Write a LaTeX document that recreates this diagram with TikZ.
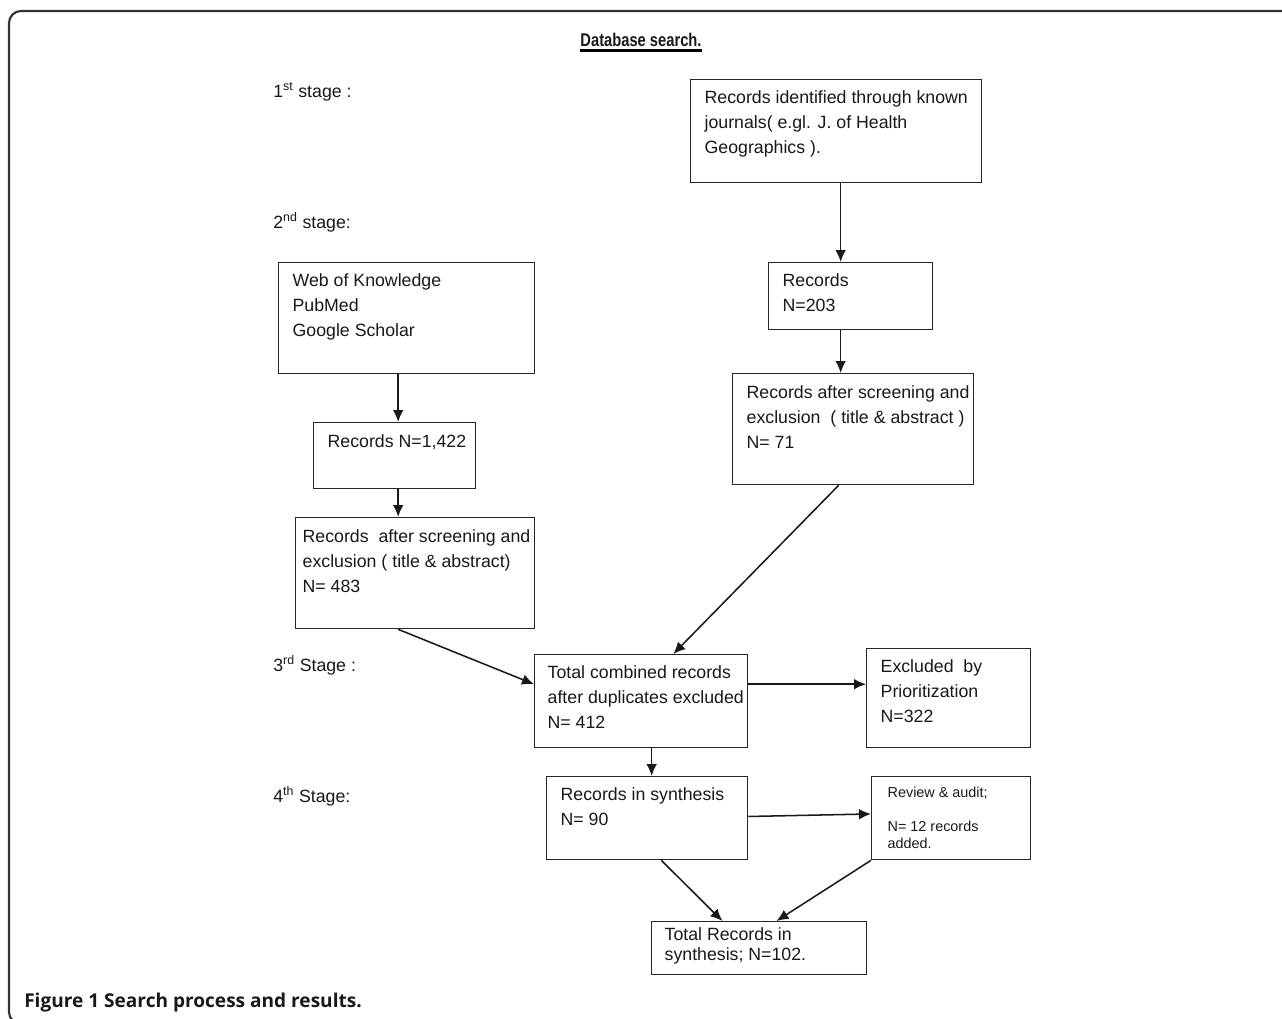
\documentclass[tikz,border=0pt]{standalone}
\usepackage{fontspec}
\usepackage{graphicx}
\setmainfont{Liberation Sans}
\newfontfamily\capfont{Open Sans}
\usetikzlibrary{arrows.meta,calc}
\newlength\pxu \setlength\pxu{0.75pt}
% name, x, y, w, h, left pad, first baseline, text
\newcommand\mkbox[8]{%
  \node[bxs] (#1) at (#2,#3) {\parbox[t][#5\pxu][t]{#4\pxu}{\raggedright\leftskip=#6\pxu\relax
    \fontsize{13.3}{18.5}\selectfont\rule{0pt}{#7\pxu}#8}};}
\tikzset{
  bxs/.style={draw=black!85, line width=1pt, inner sep=0pt, anchor=north west},
  arr/.style={-{Latex[length=9pt,width=8pt]}, line width=1.15pt, draw=black!90},
  stg/.style={anchor=base west, inner sep=0pt, font=\fontsize{13.3}{16}\selectfont},
}
\begin{document}
\begin{tikzpicture}[x=0.75pt, y=-0.75pt, text=black!90]
\useasboundingbox (0,0) rectangle (1282,1018);
\fill[white] (0,0) rectangle (1282,1018);
% frame
\draw[line width=1.6pt, black!80, rounded corners=9pt] (1300,1024) -- (9,1024) -- (9,11) -- (1300,11);
% title
\node[anchor=base, inner sep=0pt] (title) at (641,46) {\fontsize{13.8}{16}\selectfont\bfseries\scalebox{0.8}[1]{Database search.}};
\draw[line width=1.9pt] ($(title.base west)+(0,4.5)$) -- ($(title.base east)+(0,4.5)$);
% stage labels
\node[stg] (s1) at (273,97) {1\textsuperscript{st} stage :};
\node[stg] (s2) at (273,228) {2\textsuperscript{nd} stage:};
\node[stg] (s3) at (273,671) {3\textsuperscript{rd} Stage :};
\node[stg] (s4) at (273,802) {4\textsuperscript{th} Stage:};
% boxes
\mkbox{A}{690}{79}{291}{103}{14}{24}{Records identified through known\\journals( e.gl. J. of Health\\Geographics ).}
\mkbox{B}{278}{262}{256}{111}{14}{24}{Web of Knowledge\\PubMed\\Google Scholar}
\mkbox{C}{768}{262}{164}{67}{14}{24}{Records\\N=203}
\mkbox{D}{313}{422}{162}{66}{14}{25}{Records N=1,422}
\mkbox{E}{732}{373}{241}{111}{14}{25}{Records after screening and\\exclusion\ \ ( title \& abstract )\\N= 71}
\mkbox{F}{295}{517}{239}{111}{7}{25}{Records\ \ after screening and\\exclusion ( title \& abstract)\\N= 483}
\mkbox{G}{534}{654}{213}{93}{13}{24}{Total combined records\\after duplicates excluded\\N= 412}
\mkbox{H}{866}{648}{164}{99}{14}{24}{Excluded\ \ by\\Prioritization\\N=322}
\mkbox{I}{546}{776}{201}{83}{14}{24}{Records in synthesis\\N= 90}
\mkbox{J}{871}{776}{159}{83}{16}{21}{\fontsize{10.8}{12.6}\selectfont Review \& audit;\\\mbox{}\\N= 12 records\\added.}
\mkbox{K}{651}{921}{215}{53}{13}{19}{\fontsize{13.3}{15}\selectfont Total Records in\\synthesis; N=102.}
% connectors
\coordinate (ax) at ($(A.south)+(4.5,0)$);
\draw[arr] (ax) -- (ax |- C.north);
\draw[arr] (ax |- C.south) -- (ax |- E.north);
\coordinate (bx) at ($(D.north)+(3.5,0)$);
\draw[arr] (bx |- B.south) -- (bx);
\draw[arr] (bx |- D.south) -- (bx |- F.north);
\draw[arr] (bx |- F.south) -- ($(G.north west)!0.32!(G.south west)$);
\draw[arr] ($(E.south west)!0.44!(E.south east)$) -- ($(G.north west)!0.65!(G.north east)$);
\coordinate (g1) at ($(G.north east)!0.32!(G.south east)$);
\draw[arr] (g1) -- (g1 -| H.west);
\coordinate (gx) at ($(G.south)+(10.5,0)$);
\draw[arr] (gx) -- (gx |- I.north);
\draw[arr] ($(I.north east)!0.48!(I.south east)$) -- ($(J.north west)!0.45!(J.south west)$);
\draw[arr] ($(I.south west)!0.57!(I.south east)$) -- ($(K.north west)!0.33!(K.north east)$);
\draw[arr] (J.south west) -- ($(K.north west)!0.58!(K.north east)$);
% caption
\node[anchor=base west, inner sep=0pt] (cap) at (24,1007) {\capfont\bfseries\fontsize{14.3}{16}\selectfont Figure 1 Search process and results.};
\end{tikzpicture}
\end{document}
